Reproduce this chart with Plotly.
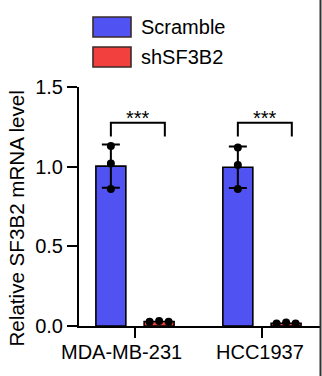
import numpy as np
import plotly.graph_objects as go

# ---------------- data ----------------
categories = ["MDA-MB-231", "HCC1937"]
groups = ["Scramble", "shSF3B2"]
scramble_reps = [[1.13, 1.02, 0.86], [1.12, 1.01, 0.86]]
sh_reps = [[0.026, 0.031, 0.027], [0.015, 0.022, 0.015]]
significance = ["***", "***"]
y_ticks = [0.0, 0.5, 1.0, 1.5]
y_title = "Relative SF3B2 mRNA level"

# ---------------- style ----------------
FONT = "Arial, Liberation Sans, sans-serif"
colors = ["#5052F2", "#F2403F"]
offsets = [-0.19, 0.19]
bar_w = 0.236
swarm = [[0, 0, 0], [-0.075, 0, 0.075]]
label_shift = [-14, -2]

W, H = 322, 376
L, R, T, B = 79, 2, 87, 50

reps = [scramble_reps, sh_reps]
idx = np.arange(len(categories))

fig = go.Figure()
for g, name in enumerate(groups):
    arr = np.array(reps[g])
    means = arr.mean(axis=1)
    sds = arr.std(axis=1, ddof=1)
    fig.add_trace(go.Bar(
        x=idx + offsets[g], y=means, width=bar_w, name=name,
        marker=dict(color=colors[g], line=dict(color="black", width=1.6)),
        error_y=dict(type="data", array=sds, visible=g == 0, color="black",
                     thickness=2, width=9),
        showlegend=False,
    ))
for g, name in enumerate(groups):
    arr = np.array(reps[g])
    xs, ys = [], []
    for i in range(len(categories)):
        for k, v in enumerate(arr[i]):
            xs.append(idx[i] + offsets[g] + swarm[g][k])
            ys.append(v)
    fig.add_trace(go.Scatter(x=xs, y=ys, mode="markers",
                             marker=dict(color="black", size=8),
                             showlegend=False, hoverinfo="skip"))

# significance brackets
for i in range(len(categories)):
    x0 = idx[i] + offsets[0]
    x1 = idx[i] + offsets[1] + 0.045
    yb, yt = 1.19, 1.275
    fig.add_shape(type="path",
                  path=f"M {x0},{yb} L {x0},{yt} L {x1},{yt} L {x1},{yb}",
                  line=dict(color="black", width=2), xref="x", yref="y")
    fig.add_annotation(x=(x0 + x1) / 2, y=yt, text=significance[i],
                       showarrow=False, yanchor="bottom", yshift=-8,
                       font=dict(family=FONT, size=20, color="black"))

pw = W - L - R
ph = H - T - B
def px(x):
    return (x - L) / pw
def py(y):
    return (H - B - y) / ph

# category labels
for i, cat in enumerate(categories):
    fig.add_annotation(x=idx[i], xref="x", y=py(352), yref="paper",
                       text=cat, showarrow=False, xshift=label_shift[i],
                       xanchor="center", yanchor="middle",
                       font=dict(family=FONT, size=20, color="black"))

# y title
fig.add_annotation(xref="paper", yref="paper", x=px(15.5), y=py(219),
                   text=y_title, textangle=-90, showarrow=False,
                   xanchor="center", yanchor="middle",
                   font=dict(family=FONT, size=20.6, color="black"))

# manual legend
leg_rows = [27, 57]
for g, name in enumerate(groups):
    yc = leg_rows[g]
    fig.add_shape(type="rect", xref="paper", yref="paper",
                  x0=px(93), x1=px(131), y0=py(yc + 10), y1=py(yc - 10),
                  fillcolor=colors[g], line=dict(color="#3a2a2a", width=1.6))
    fig.add_annotation(xref="paper", yref="paper", x=px(139), y=py(yc),
                       text=name, showarrow=False, xanchor="left", yanchor="middle",
                       font=dict(family=FONT, size=20, color="black"))

# right border line
fig.add_shape(type="line", xref="paper", yref="paper",
              x0=px(320.5), x1=px(320.5), y0=py(H), y1=py(0),
              line=dict(color="#333333", width=2))

fig.update_layout(
    width=W, height=H,
    margin=dict(l=L, r=R, t=T, b=B, pad=0, autoexpand=False),
    paper_bgcolor="white", plot_bgcolor="white",
    font=dict(family=FONT, size=20, color="black"),
    showlegend=False,
    xaxis=dict(range=[-0.441, 1.457], tickvals=list(idx),
               ticktext=["" for _ in categories],
               showline=True, linecolor="black", linewidth=2,
               ticks="outside", ticklen=10, tickwidth=2, tickcolor="black",
               showgrid=False, zeroline=False, automargin=False),
    yaxis=dict(range=[0, 1.5], tickvals=y_ticks, tickformat=".1f",
               showline=True, linecolor="black", linewidth=2,
               ticks="outside", ticklen=10, tickwidth=2, tickcolor="black",
               showgrid=False, zeroline=False, automargin=False,
               tickfont=dict(family=FONT, size=20)),
)

fig.write_html("out.html",
               config={"displayModeBar": False},
               post_script="document.body.style.margin='0';"
                           "document.body.style.overflow='hidden';")
